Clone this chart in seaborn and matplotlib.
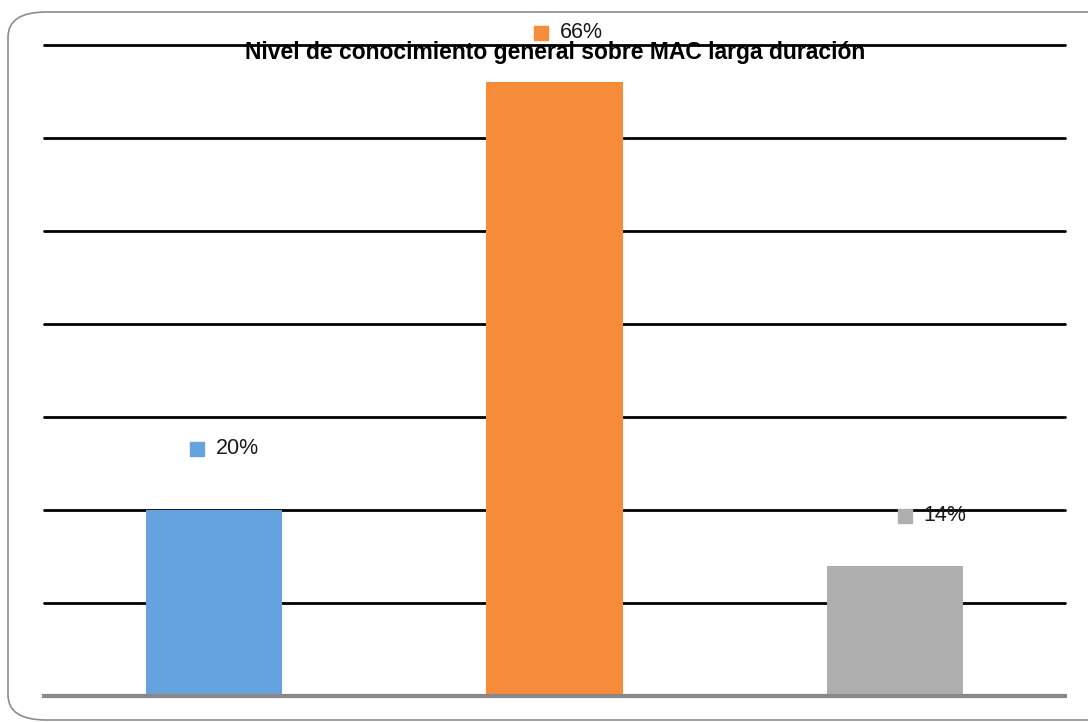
import matplotlib
matplotlib.use("Agg")
import matplotlib.pyplot as plt
import seaborn as sns
import pandas as pd
from matplotlib.patches import FancyBboxPatch

# Data
categorias = ["Alto", "Medio", "Bajo"]
porcentajes = [20, 66, 14]
colores = ["#65A3DF", "#F68B3A", "#AFAFAF"]
titulo = "Nivel de conocimiento general sobre MAC larga duración"

# label placement (category units / percent units)
label_dx = [-0.05, -0.04, 0.03]
label_dy = [6.6, 5.3, 5.4]

sns.set_style("white")
plt.rcParams["font.family"] = ["Liberation Sans", "DejaVu Sans"]

df = pd.DataFrame({"cat": categorias, "pct": porcentajes})

fig = plt.figure(figsize=(10.88, 7.22), dpi=100)
ax = fig.add_axes([44 / 1088, 1 - 696 / 722, (1065 - 44) / 1088, (696 - 45) / 722])

sns.barplot(data=df, x="cat", y="pct", hue="cat", palette=colores,
            width=0.4, legend=False, ax=ax, saturation=1, zorder=3,
            linewidth=0, edgecolor="none")

ax.set_ylim(0, 70)
ax.set_xlim(-0.5, 2.5)
ax.set_yticks(range(0, 71, 10))
ax.set_yticklabels([])
ax.set_xticks([])
ax.set_xlabel("")
ax.set_ylabel("")
ax.tick_params(left=False, bottom=False)
ax.yaxis.grid(True, color="black", linewidth=2)
for ln in ax.get_ygridlines():
    ln.set_clip_on(False)
ax.set_axisbelow(True)
for s in ["top", "right", "left"]:
    ax.spines[s].set_visible(False)
ax.spines["bottom"].set_color("#888888")
ax.spines["bottom"].set_linewidth(3)
ax.spines["bottom"].set_zorder(4)

# data labels with colored square keys
for i, (v, c) in enumerate(zip(porcentajes, colores)):
    x0 = i + label_dx[i]
    y0 = v + label_dy[i]
    ax.plot(x0, y0, marker="s", color=c, ms=10, clip_on=False, zorder=5)
    ax.text(x0 + 0.055, y0, f"{v}%", fontsize=15.5, va="center", ha="left",
            color="#1a1a1a", zorder=5, clip_on=False)

fig.text(555 / 1088, 1 - 53 / 722, titulo, ha="center", va="center",
         fontsize=16.5, fontweight="bold", color="black")

# rounded outer frame
frame = FancyBboxPatch((8 / 1088, 2 / 722), 1.2, 1 - 14 / 722,
                       boxstyle="round,pad=0,rounding_size=0.035",
                       transform=fig.transFigure, fill=False,
                       edgecolor="#8c8c8c", linewidth=1.2, mutation_aspect=722 / 1088 * 1.5)
fig.patches.append(frame)

fig.savefig("out.png", dpi=100)
